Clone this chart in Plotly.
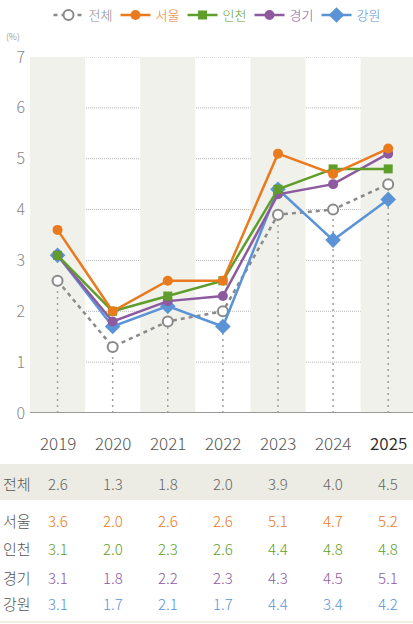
import plotly.graph_objects as go

years = ["2019", "2020", "2021", "2022", "2023", "2024", "2025"]
total = [2.6, 1.3, 1.8, 2.0, 3.9, 4.0, 4.5]
seoul = [3.6, 2.0, 2.6, 2.6, 5.1, 4.7, 5.2]
incheon = [3.1, 2.0, 2.3, 2.6, 4.4, 4.8, 4.8]
gyeonggi = [3.1, 1.8, 2.2, 2.3, 4.3, 4.5, 5.1]
gangwon = [3.1, 1.7, 2.1, 1.7, 4.4, 3.4, 4.2]
y_ticks = [0, 1, 2, 3, 4, 5, 6, 7]

GREY = "#8a8a8a"
ORANGE = "#ea7a1e"
GREEN = "#5f9e2a"
PURPLE = "#8d5aa0"
BLUE = "#5b94d6"
BAND = "#f1f1ec"
FONT = "Noto Sans CJK KR, sans-serif"
KFONT = "Noto Sans CJK KR, sans-serif"

xs = list(range(len(years)))
fig = go.Figure()

# drop lines from 전체 points
dx, dy = [], []
for i, v in zip(xs, total):
    dx += [i, i, None]
    dy += [0, v, None]
fig.add_trace(go.Scatter(x=dx, y=dy, mode="lines", showlegend=False, hoverinfo="skip",
                         line=dict(color="#a0a0a0", width=1.5, dash="2px,4px")))

series = [
    ("전체", total, GREY, "circle-open", 10, "dash"),
    ("서울", seoul, ORANGE, "circle", 10, "solid"),
    ("인천", incheon, GREEN, "square", 9, "solid"),
    ("경기", gyeonggi, PURPLE, "circle", 10, "solid"),
    ("강원", gangwon, BLUE, "diamond", 12, "solid"),
]
order = [0, 4, 3, 2, 1]
traces = {}
for k, (name, vals, col, sym, sz, dash) in enumerate(series):
    if sym == "circle-open":
        marker = dict(symbol="circle", size=sz, color="white", line=dict(color=col, width=2))
        line = dict(color=col, width=2.5, dash="4px,4px")
    else:
        marker = dict(symbol=sym, size=sz, color=col)
        line = dict(color=col, width=2.5)
    traces[k] = go.Scatter(x=xs, y=vals, mode="lines+markers",
                           name=f'<span style="color:{col}">{name}</span>',
                           line=line, marker=marker, legendrank=k + 1)
for k in order:
    fig.add_trace(traces[k])

shapes = []
for i in xs:
    if i % 2 == 0:
        shapes.append(dict(type="rect", xref="x", yref="y", x0=i - 0.5, x1=i + 0.5, y0=0, y1=7,
                           fillcolor=BAND, line=dict(width=0), layer="below"))
for t in y_ticks[1:]:
    shapes.append(dict(type="line", xref="paper", yref="y", x0=0, x1=1, y0=t, y1=t,
                       line=dict(color="#b5b5b5", width=1, dash="1px,1px"), layer="below"))
shapes.append(dict(type="line", xref="paper", yref="y", x0=0, x1=1, y0=0, y1=0,
                   line=dict(color="#999999", width=2)))

# table
PT, PB = 57, 413
H = PB - PT
def py(p):
    return (PB - p) / H
L = 30
W = 413 - L
def px(p):
    return (p - L) / W

shapes.append(dict(type="rect", xref="paper", yref="paper", x0=px(0), x1=px(413),
                   y0=py(500), y1=py(464), fillcolor="#ecece4", line=dict(width=0)))
shapes.append(dict(type="line", xref="paper", yref="paper", x0=px(0), x1=px(413),
                   y0=py(622), y1=py(622), line=dict(color="#f3efe0", width=2)))

annotations = []
def ann(**kw):
    d = dict(showarrow=False, xanchor="center", yanchor="middle")
    d.update(kw)
    annotations.append(d)

for i, yr in enumerate(years):
    ann(x=i, y=py(442), xref="x", yref="paper", text=yr,
        font=dict(family=FONT, size=17, weight=300 if yr != "2025" else 350,
                  color="#2a2a2a" if yr == "2025" else "#555555"))
rows = [("전체", total, "#666666", 483), ("서울", seoul, ORANGE, 520), ("인천", incheon, GREEN, 548),
        ("경기", gyeonggi, PURPLE, 577), ("강원", gangwon, BLUE, 603)]
for name, vals, col, ypx in rows:
    ann(x=px(17), y=py(ypx), xref="paper", yref="paper", text=name,
        font=dict(family=KFONT, size=15, weight=300, color="#555555"))
    for i, v in enumerate(vals):
        ann(x=i, y=py(ypx), xref="x", yref="paper", text=f"{v:.1f}",
            font=dict(family=FONT, size=15, weight=300, color=col))
ann(x=px(13), y=py(36), xref="paper", yref="paper", text="(%)",
    font=dict(family=FONT, size=9, weight=300, color="#777777"))

fig.update_layout(
    width=413, height=624, margin=dict(l=L, r=0, t=PT, b=624 - PB, autoexpand=False),
    paper_bgcolor="white", plot_bgcolor="white",
    showlegend=True,
    legend=dict(orientation="h", x=px(216), xanchor="center", y=py(15), yanchor="middle",
                font=dict(family=KFONT, size=13, weight=300), itemwidth=30, tracegroupgap=0,
                entrywidth=22, entrywidthmode="pixels",
                traceorder="normal", bgcolor="rgba(0,0,0,0)"),
    xaxis=dict(range=[-0.5, 6.45], showgrid=False, zeroline=False, showticklabels=False,
               showline=False, fixedrange=True, automargin=False),
    yaxis=dict(range=[0, 7], tickvals=y_ticks, showgrid=False, zeroline=False, showline=False,
               automargin=False, ticks="", fixedrange=True,
               tickfont=dict(family=FONT, size=16, weight=300, color="#888888"), ticklabelstandoff=4),
    shapes=shapes, annotations=annotations,
)
fig.write_html("out.html", config={"displayModeBar": False},
               post_script="document.body.style.margin='0';document.body.style.padding='0';")
